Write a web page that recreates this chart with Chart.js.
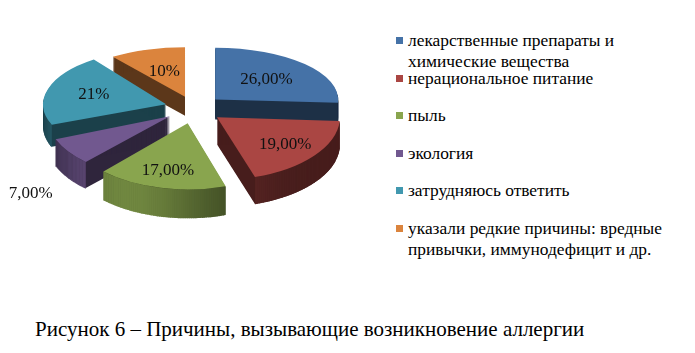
<!DOCTYPE html>
<html>
<head>
<meta charset="utf-8">
<script src="https://cdn.jsdelivr.net/npm/chart.js@4.4.0/dist/chart.umd.min.js"></script>
<style>
  body { margin: 0; background: #fff; }
  #wrap { position: relative; width: 695px; height: 353px; font-family: "Liberation Serif", serif; color: #000; }
  #chartBox { position: absolute; left: 0; top: 0; width: 390px; height: 300px; }
  #legend { position: absolute; left: 396px; top: 0; }
  .item { position: absolute; left: 0; white-space: pre-line; font-size: 17.4px; line-height: 21px; padding-left: 12px; width: 295px; }
  .item i { position: absolute; left: 0; top: 7px; width: 7px; height: 7px; }
  #caption { position: absolute; left: 35px; top: 317px; font-size: 21px; white-space: nowrap; }
</style>
</head>
<body>
<div id="wrap">
  <div id="chartBox"><canvas id="pieChart"></canvas></div>
  <div id="legend"></div>
  <div id="caption">Рисунок 6 – Причины, вызывающие возникновение аллергии</div>
</div>
<script>
// data
const categories = [
  "лекарственные препараты и\nхимические вещества",
  "нерациональное питание",
  "пыль",
  "экология",
  "затрудняюсь ответить",
  "указали редкие причины: вредные\nпривычки, иммунодефицит и др."
];
const values = [26, 19, 17, 7, 21, 10];
const valueLabels = ["26,00%", "19,00%", "17,00%", "7,00%", "21%", "10%"];
const colors = ["#4572A7", "#AA4643", "#89A54E", "#71588F", "#4198AF", "#DB843D"];

// look of the fake 3d pie (front slices get a bit taller, like perspective)
const CX = 194, CY = 108, RX = 123, EXPLODE = 0.236;
const tiltOf = mid => 0.47 + 0.07 * Math.sin(mid);
const depthOf = mid => 24 + 5 * Math.sin(mid);

function shade(hex, f) {
  const n = parseInt(hex.slice(1), 16);
  const r = Math.round(((n >> 16) & 255) * f);
  const g = Math.round(((n >> 8) & 255) * f);
  const b = Math.round((n & 255) * f);
  return "rgb(" + r + "," + g + "," + b + ")";
}

function wallFactor(t) {
  const c = Math.max(0, Math.cos(t - 120 * Math.PI / 180));
  return 0.42 + 0.4 * Math.pow(c, 4);
}

const pie3d = {
  id: "pie3d",
  beforeDatasetsDraw(chart) {
    const ctx = chart.ctx;
    const arcs = chart.getDatasetMeta(0).data;
    const geo = arcs.map((a, i) => {
      const mid = (a.startAngle + a.endAngle) / 2;
      const tilt = tiltOf(mid);
      const e = EXPLODE * RX;
      return {
        a, i, mid, tilt,
        depth: depthOf(mid),
        s: RX / a.outerRadius,
        ax: CX + Math.cos(mid) * e,
        ay: CY + Math.sin(mid) * e * tilt
      };
    });
    chart.$pie3d = geo;

    // sides, back to front
    geo.slice().sort((p, q) => Math.sin(p.mid) - Math.sin(q.mid)).forEach(g => {
      const col = colors[g.i];
      const s0 = g.a.startAngle, s1 = g.a.endAngle;
      const ry = RX * g.tilt, D = g.depth;
      ctx.save();
      ctx.fillStyle = shade(col, 0.42);
      for (let d = 1; d <= D; d++) {
        ctx.beginPath();
        ctx.moveTo(g.ax, g.ay + d);
        ctx.ellipse(g.ax, g.ay + d, RX, ry, 0, s0, s1);
        ctx.closePath();
        ctx.fill();
      }
      const step = Math.PI / 180;
      for (let t = s0; t < s1; t += step) {
        const t2 = Math.min(t + step * 1.3, s1);
        if (Math.sin((t + t2) / 2) < -0.1) continue;
        const x1 = g.ax + RX * Math.cos(t), y1 = g.ay + ry * Math.sin(t);
        const x2 = g.ax + RX * Math.cos(t2), y2 = g.ay + ry * Math.sin(t2);
        ctx.fillStyle = shade(col, wallFactor((t + t2) / 2));
        ctx.beginPath();
        ctx.moveTo(x1, y1);
        ctx.lineTo(x2, y2);
        ctx.lineTo(x2, y2 + D);
        ctx.lineTo(x1, y1 + D);
        ctx.closePath();
        ctx.fill();
      }
      ctx.restore();
    });

    // tops, drawn by the arc elements themselves
    geo.forEach(g => {
      const R = g.a.outerRadius;
      ctx.save();
      ctx.translate(CX, CY);
      ctx.scale(g.s, g.s * g.tilt);
      ctx.translate(-g.a.x, -g.a.y);
      ctx.translate(Math.cos(g.mid) * EXPLODE * R, Math.sin(g.mid) * EXPLODE * R);
      g.a.draw(ctx);
      ctx.restore();
    });
    return false;
  },
  afterDraw(chart) {
    const ctx = chart.ctx;
    const geo = chart.$pie3d || [];
    ctx.save();
    ctx.font = '17px "Liberation Serif", serif';
    ctx.textAlign = "center";
    ctx.textBaseline = "middle";
    ctx.fillStyle = "#111";
    geo.forEach(g => {
      const small = values[g.i] < 8;
      const f = small ? 1.37 : 0.64 + 0.1 * Math.sin(g.mid);
      const rr = EXPLODE * RX + f * RX;
      const x = CX + Math.cos(g.mid) * rr;
      const y = CY + Math.sin(g.mid) * rr * g.tilt + (small ? g.depth + 2 : 0);
      ctx.fillText(valueLabels[g.i], x, y);
    });
    ctx.restore();
  }
};

new Chart(document.getElementById("pieChart"), {
  type: "pie",
  data: {
    labels: categories,
    datasets: [{
      data: values,
      backgroundColor: colors,
      borderWidth: 0
    }]
  },
  options: {
    responsive: true,
    maintainAspectRatio: false,
    animation: false,
    events: [],
    plugins: {
      legend: { display: false },
      tooltip: { enabled: false }
    }
  },
  plugins: [pie3d]
});

// legend
const legend = document.getElementById("legend");
categories.forEach((name, i) => {
  const item = document.createElement("div");
  item.className = "item";
  item.style.top = (30 + i * 37.6) + "px";
  const mark = document.createElement("i");
  mark.style.background = colors[i];
  item.appendChild(mark);
  item.appendChild(document.createTextNode(name));
  legend.appendChild(item);
});
</script>
</body>
</html>
